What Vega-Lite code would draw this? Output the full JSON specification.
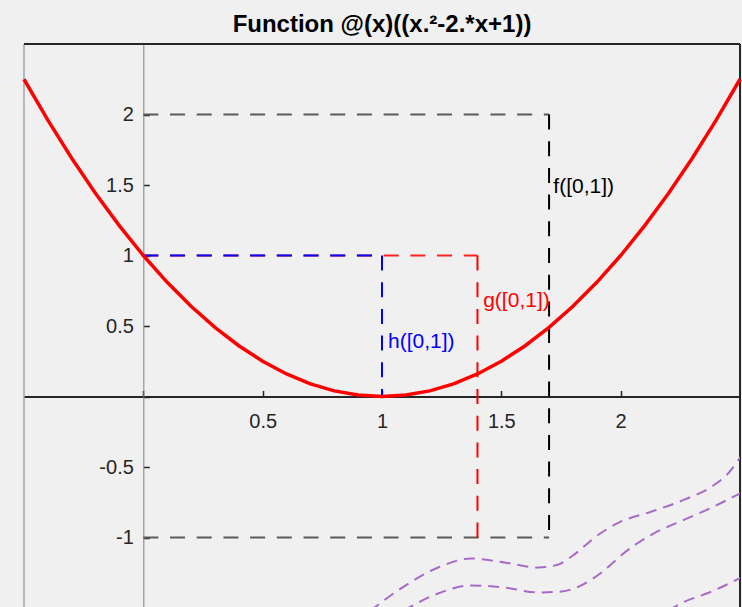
{
  "$schema": "https://vega.github.io/schema/vega-lite/v6.json",
  "width": 716,
  "height": 564,
  "autosize": {"type": "none"},
  "padding": {"left": 24, "top": 44, "right": 2, "bottom": 0},
  "background": "#f0f0f0",
  "title": {
    "text": "Function @(x)((x.²-2.*x+1))",
    "font": "Liberation Sans",
    "fontSize": 24,
    "fontWeight": "bold",
    "color": "#000000",
    "anchor": "middle",
    "offset": 6
  },
  "config": {
    "view": {"stroke": null},
    "axis": {"title": null, "grid": false}
  },
  "datasets": {
    "curve": [
      {"x": -0.5, "y": 2.25}, {"x": -0.4, "y": 1.96}, {"x": -0.3, "y": 1.69},
      {"x": -0.2, "y": 1.44}, {"x": -0.1, "y": 1.21}, {"x": 0.0, "y": 1.0},
      {"x": 0.1, "y": 0.81}, {"x": 0.2, "y": 0.64}, {"x": 0.3, "y": 0.49},
      {"x": 0.4, "y": 0.36}, {"x": 0.5, "y": 0.25}, {"x": 0.6, "y": 0.16},
      {"x": 0.7, "y": 0.09}, {"x": 0.8, "y": 0.04}, {"x": 0.9, "y": 0.01},
      {"x": 1.0, "y": 0.0}, {"x": 1.1, "y": 0.01}, {"x": 1.2, "y": 0.04},
      {"x": 1.3, "y": 0.09}, {"x": 1.4, "y": 0.16}, {"x": 1.5, "y": 0.25},
      {"x": 1.6, "y": 0.36}, {"x": 1.7, "y": 0.49}, {"x": 1.8, "y": 0.64},
      {"x": 1.9, "y": 0.81}, {"x": 2.0, "y": 1.0}, {"x": 2.1, "y": 1.21},
      {"x": 2.2, "y": 1.44}, {"x": 2.3, "y": 1.69}, {"x": 2.4, "y": 1.96},
      {"x": 2.5, "y": 2.25}
    ],
    "guides": [
      {"line": "f-level", "x": 0, "x2": 1.7, "y": 2, "y2": 2},
      {"line": "f-level", "x": 0, "x2": 1.7, "y": -1, "y2": -1},
      {"line": "f-drop", "x": 1.7, "x2": 1.7, "y": 2, "y2": -1},
      {"line": "g-level", "x": 0, "x2": 1.4, "y": 1, "y2": 1},
      {"line": "g-drop", "x": 1.4, "x2": 1.4, "y": 1, "y2": -1},
      {"line": "h-level", "x": 0, "x2": 1, "y": 1, "y2": 1},
      {"line": "h-drop", "x": 1, "x2": 1, "y": 1, "y2": 0}
    ],
    "waves": [
      {"wave": "p1", "x": 0.95, "y": -1.52}, {"wave": "p1", "x": 1.09, "y": -1.35},
      {"wave": "p1", "x": 1.235, "y": -1.213}, {"wave": "p1", "x": 1.374, "y": -1.149},
      {"wave": "p1", "x": 1.513, "y": -1.177}, {"wave": "p1", "x": 1.655, "y": -1.213},
      {"wave": "p1", "x": 1.739, "y": -1.191}, {"wave": "p1", "x": 1.794, "y": -1.135},
      {"wave": "p1", "x": 1.908, "y": -0.979}, {"wave": "p1", "x": 1.992, "y": -0.894},
      {"wave": "p1", "x": 2.13, "y": -0.816}, {"wave": "p1", "x": 2.269, "y": -0.73},
      {"wave": "p1", "x": 2.382, "y": -0.638}, {"wave": "p1", "x": 2.454, "y": -0.539},
      {"wave": "p1", "x": 2.51, "y": -0.411}, {"wave": "p1", "x": 2.53, "y": -0.37},
      {"wave": "p2", "x": 1.09, "y": -1.52}, {"wave": "p2", "x": 1.122, "y": -1.489},
      {"wave": "p2", "x": 1.235, "y": -1.397}, {"wave": "p2", "x": 1.374, "y": -1.34},
      {"wave": "p2", "x": 1.513, "y": -1.355}, {"wave": "p2", "x": 1.655, "y": -1.39},
      {"wave": "p2", "x": 1.752, "y": -1.383}, {"wave": "p2", "x": 1.824, "y": -1.348},
      {"wave": "p2", "x": 1.92, "y": -1.248}, {"wave": "p2", "x": 2.017, "y": -1.106},
      {"wave": "p2", "x": 2.13, "y": -0.979}, {"wave": "p2", "x": 2.269, "y": -0.872},
      {"wave": "p2", "x": 2.382, "y": -0.787}, {"wave": "p2", "x": 2.53, "y": -0.66},
      {"wave": "p3", "x": 2.2, "y": -1.52}, {"wave": "p3", "x": 2.244, "y": -1.475},
      {"wave": "p3", "x": 2.382, "y": -1.383}, {"wave": "p3", "x": 2.53, "y": -1.262}
    ],
    "labels": [
      {"fn": "f", "text": "f([0,1])", "x": 1.718, "y": 1.489},
      {"fn": "g", "text": "g([0,1])", "x": 1.424, "y": 0.674},
      {"fn": "h", "text": "h([0,1])", "x": 1.025, "y": 0.383}
    ]
  },
  "layer": [
    {
      "data": {"values": [{"edge": "left"}]},
      "mark": {"type": "rule", "color": "#808080", "strokeWidth": 1},
      "encoding": {
        "x": {"datum": -0.5, "type": "quantitative"}
      }
    },
    {
      "data": {"values": [{"edge": "right"}]},
      "mark": {"type": "rule", "color": "#262626", "strokeWidth": 2},
      "encoding": {
        "x": {"datum": 2.5, "type": "quantitative"}
      }
    },
    {
      "data": {"values": [{"edge": "top"}]},
      "mark": {"type": "rule", "color": "#262626", "strokeWidth": 2},
      "encoding": {
        "y": {"datum": 2.5, "type": "quantitative"}
      }
    },
    {
      "data": {"name": "waves"},
      "mark": {"type": "line", "color": "#a86ac8", "strokeWidth": 2, "strokeDash": [11, 7], "interpolate": "monotone", "clip": true},
      "encoding": {
        "x": {"field": "x", "type": "quantitative"},
        "y": {"field": "y", "type": "quantitative"},
        "detail": {"field": "wave"}
      }
    },
    {
      "data": {"name": "guides"},
      "mark": {"type": "rule", "strokeWidth": 2, "strokeDash": [15, 11.7]},
      "encoding": {
        "x": {"field": "x", "type": "quantitative"},
        "x2": {"field": "x2"},
        "y": {"field": "y", "type": "quantitative"},
        "y2": {"field": "y2"},
        "color": {
          "field": "line",
          "type": "nominal",
          "legend": null,
          "scale": {
            "domain": ["f-level", "f-drop", "g-level", "g-drop", "h-level", "h-drop"],
            "range": ["#5a5a5a", "#000000", "#ff2020", "#ff0000", "#0000ff", "#0000ff"]
          }
        }
      }
    },
    {
      "data": {"name": "curve"},
      "mark": {"type": "line", "color": "#ff0000", "strokeWidth": 3.5},
      "encoding": {
        "x": {
          "field": "x",
          "type": "quantitative",
          "scale": {"domain": [-0.5, 2.5], "nice": false, "zero": false},
          "axis": {
            "title": null,
            "grid": false,
            "values": [0, 0.5, 1, 1.5, 2],
            "labelExpr": "datum.value == 0 ? '' : toString(datum.value)",
            "offset": -211.5,
            "domainColor": "#262626",
            "domainWidth": 2,
            "tickColor": "#262626",
            "tickWidth": 1.5,
            "tickSize": -6,
            "labelPadding": 21,
            "labelFont": "Liberation Sans",
            "labelFontSize": 20,
            "labelColor": "#262626",
            "labelFlush": false,
            "labelOverlap": false
          }
        },
        "y": {
          "field": "y",
          "type": "quantitative",
          "scale": {"domain": [-1.5, 2.5], "nice": false, "zero": false},
          "axis": {
            "title": null,
            "grid": false,
            "values": [-1, -0.5, 0, 0.5, 1, 1.5, 2],
            "labelExpr": "datum.value == 0 ? '' : toString(datum.value)",
            "offset": -119.33,
            "domainColor": "#808080",
            "domainWidth": 1,
            "tickColor": "#262626",
            "tickWidth": 1.5,
            "tickSize": -6,
            "labelPadding": 16,
            "labelFont": "Liberation Sans",
            "labelFontSize": 20,
            "labelColor": "#262626",
            "labelFlush": false,
            "labelOverlap": false
          }
        }
      }
    },
    {
      "data": {"name": "labels"},
      "mark": {"type": "text", "align": "left", "baseline": "middle", "font": "Liberation Sans", "fontSize": 21},
      "encoding": {
        "x": {"field": "x", "type": "quantitative"},
        "y": {"field": "y", "type": "quantitative"},
        "text": {"field": "text"},
        "color": {
          "field": "fn",
          "type": "nominal",
          "legend": null,
          "scale": {"domain": ["f", "g", "h"], "range": ["#000000", "#ff0000", "#0000ff"]}
        }
      }
    }
  ],
  "resolve": {"scale": {"color": "independent"}}
}
